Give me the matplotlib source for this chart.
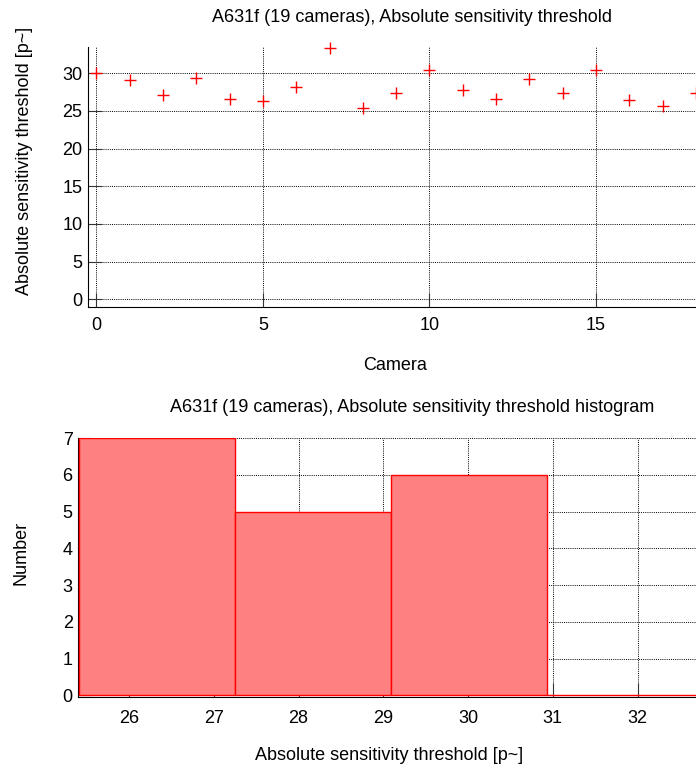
import numpy as np
import matplotlib
matplotlib.use("Agg")
import matplotlib.pyplot as plt

plt.rcParams["font.family"] = "Liberation Sans"
plt.rcParams["font.size"] = 13

# absolute sensitivity threshold per camera
cameras = list(range(19))
threshold = [30.0, 29.1, 27.1, 29.4, 26.6, 26.3, 28.2, 33.4, 25.4, 27.4,
             30.4, 27.7, 26.6, 29.2, 27.4, 30.4, 26.5, 25.7, 27.4]

# histogram bins
hist_edges = [25.41, 27.25, 29.09, 30.93, 32.77, 34.61]
hist_counts = [7, 5, 6, 0, 1]

title = "A631f (19 cameras), Absolute sensitivity threshold"
unit = "Absolute sensitivity threshold [p~]"

fig = plt.figure(figsize=(6.96, 7.69), dpi=100)


def style(ax):
    for s in ["top", "right"]:
        ax.spines[s].set_visible(False)
    ax.grid(True, linestyle=(0, (1, 1.2)), color="black", linewidth=0.7)
    ax.set_axisbelow(True)
    ax.tick_params(direction="in", length=10, width=0.8, colors="#333333",
                   labelcolor="black", labelsize=13, pad=4)


# top: scatter of thresholds
ax1 = fig.add_axes([0.1264, 0.6004, 0.8736, 0.3381])
style(ax1)
ax1.plot(cameras, threshold, "+", color="red", markersize=9, mew=1,
         clip_on=False)
ax1.set_xlim(-0.25, 18)
ax1.set_ylim(-1.07, 33.43)
ax1.set_xticks([0, 5, 10, 15])
ax1.set_yticks(range(0, 31, 5))
ax1.tick_params(axis="x", pad=7)
ax1.set_title(title, x=0.533, y=1.113, va="center", fontsize=13, pad=0)
ax1.set_xlabel("Camera", va="center")
ax1.xaxis.set_label_coords(0.505, -0.222)
ax1.set_ylabel(unit, va="center")
ax1.yaxis.set_label_coords(-0.1036, 0.563)

# bottom: histogram
ax2 = fig.add_axes([0.1125, 0.0932, 0.8875, 0.3372])
style(ax2)
widths = np.diff(hist_edges)
ax2.bar(hist_edges[:-1], hist_counts, width=widths, align="edge",
        color="#ff8080", edgecolor="red", linewidth=1, zorder=3)
ax2.set_xlim(25.4, 32.69)
ax2.set_ylim(-0.05, 7)
ax2.set_yticks(range(0, 8))
ax2.tick_params(axis="x", pad=9)
ax2.set_title(title + " histogram", x=0.540, y=1.116, va="center",
              fontsize=13, pad=0)
ax2.set_xlabel(unit, va="center")
ax2.xaxis.set_label_coords(0.503, -0.226)
ax2.set_ylabel("Number", va="center")
ax2.yaxis.set_label_coords(-0.0928, 0.556)

fig.savefig("out.png", dpi=100)
